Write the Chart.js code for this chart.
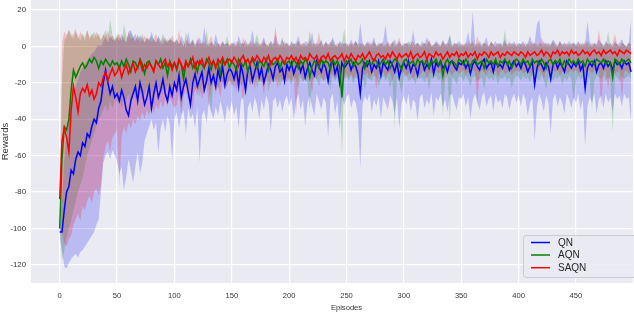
<!DOCTYPE html>
<html>
<head>
<meta charset="utf-8">
<script src="https://cdn.jsdelivr.net/npm/chart.js@4.4.1/dist/chart.umd.min.js"></script>
<style>
html, body { margin: 0; padding: 0; background: #fff; overflow: hidden; }
#wrap { width: 662px; height: 312px; }
</style>
</head>
<body>
<div id="wrap"><canvas id="chart" width="662" height="312"></canvas></div>
<script>
// Episodes are logged every 2 steps, 0..498
const EPISODE_STEP = 2;
const xTicks = [0, 50, 100, 150, 200, 250, 300, 350, 400, 450, 500];
const xTickLabels = ['0', '50', '100', '150', '200', '250', '300', '350', '400', '450', ''];
const yTicks = [-120, -100, -80, -60, -40, -20, 0, 20];
const seriesNames = ['QN', 'AQN', 'SAQN'];

// QN (blue)
const qnMean = [
  -102, -102, -90, -80, -77, -68, -70, -62, -58, -60, -53, -55, -48, -50, -44, -40, -42, -34, -30, -20, -13, -20, -26, -22, -28,
  -26, -30, -24, -28, -35, -38, -30, -26, -22, -30, -20, -25, -32, -28, -22, -34, -26, -20, -28, -24, -18, -26, -30, -22, -27,
  -20, -24, -16, -28, -22, -18, -25, -32, -20, -15, -22, -18, -14, -24, -19, -12, -20, -16, -22, -13, -18, -11, -21, -15, -12,
  -14, -18, -12, -22, -10, -16, -24, -13, -11, -19, -14, -9, -17, -12, -20, -15, -10, -13, -18, -11, -9, -14, -12, -19, -10,
  -13, -9, -15, -11, -8, -14, -10, -17, -12, -9, -13, -16, -8, -11, -14, -9, -12, -19, -10, -8, -15, -11, -20, -9, -12,
  -10, -8, -13, -9, -11, -15, -26, -12, -9, -11, -8, -14, -10, -12, -8, -16, -9, -11, -13, -8, -10, -14, -9, -17, -11,
  -9, -12, -8, -14, -10, -11, -16, -9, -8, -13, -10, -12, -7, -15, -9, -11, -8, -12, -10, -14, -9, -8, -11, -13, -9,
  -10, -8, -12, -9, -15, -10, -8, -11, -13, -9, -7, -12, -10, -9, -14, -8, -11, -10, -12, -8, -9, -13, -10, -8, -11,
  -9, -12, -8, -10, -14, -11, -9, -21, -12, -8, -10, -13, -9, -11, -18, -10, -8, -12, -9, -11, -14, -8, -10, -12, -9,
  -11, -8, -13, -10, -23, -12, -9, -11, -8, -14, -10, -9, -12, -8, -11, -9, -13, -8, -10, -9, -12, -8, -10, -9, -14
];
const qnHigh = [
  -100, -85, -62, -48, -38, -32, -26, -22, -18, -14, -12, -10, -8, -6, -4, -3, -1, 1, 0, 3, 5, 2, 6, 4, 3,
  5, 3, 7, 4, 2, 8, 9, 5, 7, 3, 6, 4, 2, 5, 3, 8, 4, 2, 6, 3, 1, 5, 2, 4, 3,
  2, 4, 1, 6, 3, 0, 8, 2, 4, 1, 3, 5, 1, 11, 2, 0, 3, 1, 7, 2, 0, 3, 1, 2, 0,
  1, 3, 0, 6, 2, 1, 4, 0, 2, 9, 1, 3, 0, 2, 5, 1, 0, 3, 1, 7, 2, 0, 4, 1, 2,
  0, 3, 1, 2, 6, 1, 0, 3, 2, 1, 8, 0, 2, 1, 4, 0, 3, 1, 2, 5, 1, 0, 3, 2, 1,
  2, 0, 4, 1, 3, 1, 13, 2, 0, 3, 1, 2, 5, 0, 2, 1, 3, 12, 1, 0, 2, 4, 1, 3, 0,
  2, 1, 3, 0, 9, 1, 2, 0, 3, 1, 5, 2, 0, 1, 3, 2, 0, 4, 1, 2, 6, 0, 2, 1, 3,
  1, 0, 2, 8, 1, 19, 2, 0, 3, 1, 2, 5, 0, 2, 1, 3, 0, 2, 1, 4, 0, 2, 1, 3, 0,
  2, 1, 3, 0, 2, 6, 1, 2, 12, 15, 1, 3, 0, 2, 1, 4, 2, 0, 3, 1, 2, 0, 3, 1, 2,
  1, 3, 0, 2, 1, 14, 3, 0, 2, 1, 4, 2, 0, 3, 1, 2, 0, 3, 1, 2, 4, 1, 0, 2, 15
];
const qnLow = [
  -104, -112, -121, -122, -119, -117, -115, -114, -116, -113, -112, -110, -108, -106, -104, -102, -98, -95, -80, -64, -60, -58, -62, -57, -60,
  -63, -70, -66, -79, -72, -62, -68, -75, -66, -58, -70, -64, -52, -48, -44, -40, -46, -42, -59, -45, -40, -47, -38, -43, -63,
  -40, -36, -45, -38, -35, -48, -34, -40, -37, -45, -33, -64, -38, -35, -42, -31, -36, -40, -33, -38, -30, -35, -42, -32, -36,
  -30, -38, -33, -45, -30, -28, -52, -34, -30, -36, -28, -32, -40, -29, -35, -27, -31, -47, -30, -28, -34, -29, -36, -30, -27,
  -33, -28, -40, -30, -26, -35, -29, -44, -31, -27, -33, -38, -26, -30, -35, -28, -31, -50, -29, -26, -37, -30, -46, -28, -32,
  -28, -26, -34, -29, -31, -38, -67, -32, -27, -30, -26, -36, -29, -33, -27, -40, -28, -31, -35, -27, -30, -37, -28, -45, -31,
  -27, -32, -26, -36, -29, -31, -41, -28, -26, -34, -29, -32, -25, -38, -28, -30, -26, -33, -29, -36, -27, -26, -31, -35, -28,
  -29, -26, -33, -28, -40, -30, -26, -31, -35, -28, -25, -33, -29, -27, -36, -26, -31, -29, -34, -26, -28, -35, -29, -26, -31,
  -27, -33, -26, -29, -38, -31, -28, -52, -33, -26, -30, -36, -27, -31, -48, -29, -26, -33, -28, -31, -37, -26, -29, -34, -28,
  -31, -26, -35, -29, -55, -33, -28, -31, -26, -37, -29, -27, -34, -26, -31, -28, -36, -26, -29, -27, -33, -26, -29, -28, -42
];

// AQN (green)
const aqnMean = [
  -100, -62, -44, -46, -40, -24, -13, -17, -14, -11, -9, -12, -10, -7, -9, -6, -8, -12, -8, -10, -7, -9, -11, -8, -10,
  -9, -12, -8, -11, -7, -10, -14, -8, -9, -12, -7, -10, -15, -9, -8, -11, -13, -8, -10, -7, -12, -9, -16, -8, -11,
  -9, -13, -8, -10, -18, -9, -11, -7, -12, -9, -14, -8, -10, -12, -7, -9, -13, -8, -11, -9, -15, -8, -10, -7, -12,
  -8, -10, -13, -7, -9, -11, -8, -14, -9, -7, -10, -12, -8, -9, -11, -7, -13, -8, -10, -9, -7, -12, -8, -10, -9,
  -8, -11, -7, -9, -12, -8, -10, -7, -9, -17, -11, -8, -9, -12, -7, -10, -8, -9, -13, -7, -10, -8, -11, -28, -10,
  -8, -9, -7, -11, -8, -10, -9, -7, -12, -8, -9, -10, -7, -8, -11, -9, -7, -10, -8, -12, -9, -7, -8, -10, -13,
  -8, -7, -10, -9, -8, -11, -7, -9, -8, -10, -7, -12, -8, -9, -7, -10, -8, -16, -9, -7, -10, -8, -9, -11, -7,
  -8, -10, -7, -9, -11, -8, -7, -10, -9, -8, -12, -7, -9, -8, -10, -7, -11, -8, -9, -7, -10, -8, -12, -9, -7,
  -8, -10, -7, -9, -8, -11, -7, -9, -8, -10, -7, -9, -12, -8, -7, -10, -8, -9, -7, -11, -8, -10, -7, -9, -8,
  -10, -7, -9, -8, -11, -7, -9, -8, -10, -7, -8, -9, -7, -10, -8, -9, -17, -7, -8, -10, -7, -9, -8, -7, -9
];
const aqnHigh = [
  -100, -20, 3, 5, 9, 7, 4, 8, 6, 3, 7, 5, 9, 4, 6, 8, 5, 7, 4, 6, 9, 3, 15, 6, 4,
  7, 5, 3, 12, 6, 4, 8, 5, 3, 6, 4, 7, 2, 5, 3, 6, 4, 2, 5, 3, 7, 4, 2, 5, 3,
  2, 4, 1, 3, 0, 8, 2, 1, 4, 0, 2, 1, 3, 0, 9, 1, 2, 0, 3, 1, 0, 2, 1, 6, 0,
  2, 1, 0, 3, 1, 2, 0, 1, 3, 0, 2, 7, 1, 0, 2, 1, 0, 3, 1, 2, 0, 1, 5, 0, 2,
  1, 0, 2, 1, 3, 0, 2, 1, 0, 9, 1, 2, 0, 1, 3, 0, 2, 1, 0, 4, 1, 0, 2, 1, 10,
  0, 2, 1, 0, 3, 1, 2, 0, 1, 2, 0, 1, 3, 0, 1, 2, 0, 1, 2, 0, 3, 1, 0, 2, 1,
  0, 2, 1, 3, 0, 1, 2, 0, 1, 2, 0, 3, 1, 0, 2, 1, 0, 2, 1, 0, 7, 1, 0, 2, 1,
  0, 1, 2, 0, 1, 3, 0, 2, 1, 0, 2, 1, 0, 3, 1, 0, 2, 1, 0, 9, 1, 0, 2, 1, 0,
  2, 1, 0, 2, 1, 0, 3, 1, 0, 2, 1, 0, 2, 1, 0, 3, 1, 0, 2, 1, 0, 2, 1, 0, 2,
  1, 0, 2, 1, 0, 3, 1, 0, 2, 1, 0, 2, 1, 0, 8, 1, 0, 2, 1, 0, 2, 1, 0, 2, 1
];
const aqnLow = [
  -100, -118, -112, -105, -100, -96, -90, -85, -80, -76, -72, -66, -60, -56, -52, -48, -44, -40, -38, -35, -32, -36, -30, -34, -29,
  -31, -28, -34, -27, -30, -26, -33, -25, -29, -27, -24, -30, -26, -23, -28, -25, -32, -24, -22, -27, -23, -26, -21, -28, -24,
  -22, -26, -21, -35, -23, -20, -25, -22, -19, -24, -21, -28, -20, -23, -19, -22, -37, -20, -18, -23, -20, -19, -24, -21, -18,
  -20, -23, -19, -18, -22, -19, -26, -18, -21, -19, -17, -23, -18, -20, -19, -17, -25, -18, -20, -19, -17, -22, -18, -19, -17,
  -19, -21, -17, -18, -23, -17, -19, -18, -20, -35, -19, -17, -18, -22, -17, -19, -18, -17, -24, -16, -19, -17, -21, -60, -18,
  -17, -19, -16, -21, -17, -18, -20, -16, -24, -17, -18, -19, -16, -17, -22, -18, -16, -19, -17, -23, -18, -45, -17, -20, -26,
  -17, -16, -19, -18, -17, -21, -16, -18, -17, -20, -16, -24, -17, -18, -16, -19, -17, -38, -18, -16, -42, -17, -18, -21, -16,
  -17, -19, -16, -18, -22, -17, -16, -19, -18, -17, -24, -16, -18, -17, -19, -16, -21, -17, -18, -16, -19, -17, -23, -18, -16,
  -17, -19, -16, -18, -17, -20, -16, -18, -17, -19, -16, -18, -24, -17, -16, -19, -17, -18, -16, -21, -17, -19, -16, -18, -30,
  -19, -16, -18, -17, -20, -16, -18, -35, -19, -16, -17, -18, -16, -19, -17, -18, -47, -16, -17, -19, -16, -18, -17, -16, -18
];

// SAQN (red)
const saqnMean = [
  -84, -52, -45, -50, -58, -35, -22, -28, -36, -26, -23, -25, -21, -27, -24, -29, -26, -20, -22, -17, -14, -19, -15, -12, -16,
  -14, -11, -17, -13, -10, -15, -12, -9, -14, -11, -8, -13, -10, -12, -9, -11, -14, -8, -10, -12, -9, -7, -11, -9, -13,
  -9, -12, -7, -10, -13, -8, -11, -9, -6, -12, -8, -10, -7, -11, -9, -6, -10, -8, -12, -7, -9, -6, -10, -8, -7,
  -9, -6, -8, -11, -7, -5, -9, -7, -10, -6, -8, -5, -7, -9, -6, -8, -5, -10, -7, -6, -8, -5, -7, -9, -6,
  -7, -5, -8, -6, -9, -5, -7, -6, -8, -4, -6, -7, -5, -9, -6, -5, -7, -4, -8, -6, -5, -7, -6, -4, -8,
  -5, -7, -4, -6, -8, -5, -6, -4, -7, -5, -3, -6, -8, -5, -4, -6, -5, -7, -4, -6, -3, -5, -7, -4, -6,
  -5, -4, -6, -3, -7, -5, -4, -6, -5, -3, -7, -4, -5, -6, -3, -5, -4, -7, -5, -3, -6, -4, -5, -3, -6,
  -4, -5, -3, -6, -4, -5, -3, -7, -4, -5, -3, -4, -6, -3, -5, -4, -3, -6, -4, -5, -3, -4, -5, -3, -4,
  -5, -3, -4, -6, -3, -5, -4, -3, -5, -4, -2, -5, -3, -4, -6, -3, -4, -2, -5, -3, -4, -3, -5, -2, -4,
  -3, -5, -4, -2, -4, -3, -5, -3, -2, -4, -3, -5, -2, -4, -3, -2, -4, -3, -5, -2, -3, -4, -2, -3, -4
];
const saqnHigh = [
  -84, 2, 8, 6, 9, 5, 7, 10, 4, 8, 6, 3, 9, 5, 7, 4, 8, 6, 3, 7, 5, 9, 4, 6, 3,
  5, 7, 3, 6, 2, 8, 4, 5, 3, 7, 2, 4, 6, 3, 5, 2, 4, 7, 3, 1, 5, 2, 4, 3, 6,
  3, 1, 9, 2, 0, 4, 2, 1, 3, 0, 5, 2, 1, 3, 0, 2, 6, 1, 0, 2, 1, 3, 0, 2, 1,
  2, 0, 3, 1, 0, 5, 1, 2, 0, 3, 1, 0, 2, 1, 4, 0, 2, 1, 0, 11, 2, 1, 0, 3, 1,
  0, 2, 1, 0, 3, 1, 2, 0, 1, 4, 0, 2, 1, 8, 0, 1, 2, 0, 3, 1, 0, 2, 1, 0, 2,
  1, 0, 2, 1, 3, 0, 1, 2, 0, 1, 3, 0, 2, 1, 0, 2, 1, 0, 3, 1, 2, 0, 1, 5, 0,
  1, 2, 0, 1, 3, 0, 2, 1, 0, 2, 1, 4, 0, 1, 2, 0, 1, 3, 0, 2, 1, 0, 2, 1, 0,
  2, 1, 0, 3, 1, 2, 0, 6, 1, 0, 2, 1, 0, 3, 1, 0, 2, 1, 0, 2, 1, 3, 0, 1, 2,
  0, 1, 2, 0, 1, 3, 0, 2, 1, 0, 5, 1, 2, 0, 1, 2, 0, 1, 3, 0, 2, 1, 0, 2, 1,
  0, 2, 1, 0, 3, 1, 0, 2, 1, 0, 9, 1, 0, 2, 1, 0, 2, 7, 1, 0, 2, 1, 0, 2, 1
];
const saqnLow = [
  -84, -102, -108, -110, -106, -104, -98, -95, -92, -96, -88, -90, -85, -82, -86, -80, -78, -82, -76, -62, -55, -52, -58, -50, -48,
  -46, -77, -50, -44, -48, -42, -45, -40, -43, -38, -41, -36, -40, -35, -38, -33, -37, -32, -35, -30, -34, -29, -33, -28, -31,
  -34, -32, -26, -38, -27, -24, -30, -25, -36, -23, -27, -22, -29, -24, -21, -33, -23, -20, -26, -22, -28, -20, -24, -21, -19,
  -22, -19, -25, -18, -21, -30, -19, -17, -22, -18, -24, -17, -20, -18, -27, -17, -19, -21, -16, -18, -23, -17, -19, -16, -20,
  -17, -19, -16, -38, -17, -15, -20, -16, -18, -15, -26, -16, -18, -15, -17, -19, -15, -22, -16, -15, -18, -16, -15, -20, -17,
  -15, -17, -15, -18, -16, -14, -20, -15, -16, -14, -18, -15, -14, -24, -15, -16, -14, -17, -15, -14, -19, -15, -14, -16, -15,
  -14, -16, -15, -14, -19, -15, -14, -16, -14, -13, -18, -15, -14, -16, -13, -15, -14, -21, -15, -13, -14, -16, -14, -13, -15,
  -14, -13, -16, -14, -15, -13, -14, -31, -15, -13, -14, -16, -13, -15, -14, -13, -17, -14, -13, -15, -14, -13, -16, -14, -13,
  -14, -13, -15, -14, -13, -16, -14, -13, -15, -13, -14, -18, -13, -14, -15, -13, -14, -13, -16, -14, -13, -15, -14, -13, -14,
  -13, -15, -14, -13, -16, -14, -13, -15, -13, -14, -13, -33, -14, -13, -24, -14, -13, -15, -14, -13, -29, -14, -13, -15, -14
];

const episodes = qnMean.map((_, i) => i * EPISODE_STEP);

function toPoints(values) {
  return values.map((v, i) => ({ x: episodes[i], y: v }));
}

const FONT = "'Liberation Sans', Arial, sans-serif";
const TEXT = '#333333';

// seaborn-like grey plot area
const plotBackground = {
  id: 'plotBackground',
  beforeDraw(chart) {
    const { ctx, chartArea: a } = chart;
    ctx.save();
    ctx.fillStyle = '#EAEAF2';
    ctx.fillRect(a.left, a.top, a.right - a.left, a.bottom - a.top);
    ctx.restore();
  }
};

// legend box in lower right corner, matplotlib style
const cornerLegend = {
  id: 'cornerLegend',
  afterDatasetsDraw(chart) {
    const c = chart.ctx;
    const x = 523.5, y = 235.5, w = 150, h = 42, r = 3;
    c.save();
    c.beginPath();
    c.moveTo(x + r, y);
    c.lineTo(x + w - r, y);
    c.arcTo(x + w, y, x + w, y + r, r);
    c.lineTo(x + w, y + h - r);
    c.arcTo(x + w, y + h, x + w - r, y + h, r);
    c.lineTo(x + r, y + h);
    c.arcTo(x, y + h, x, y + h - r, r);
    c.lineTo(x, y + r);
    c.arcTo(x, y, x + r, y, r);
    c.closePath();
    c.fillStyle = 'rgba(234,234,242,0.85)';
    c.fill();
    c.strokeStyle = '#cccccc';
    c.lineWidth = 1;
    c.stroke();

    const colors = ['#0000ff', '#008000', '#ff0000'];
    const rows = [242.5, 255, 267.7];
    c.font = '10px ' + FONT;
    c.textBaseline = 'middle';
    c.fillStyle = '#262626';
    seriesNames.forEach((name, i) => {
      c.beginPath();
      c.moveTo(531, rows[i]);
      c.lineTo(550, rows[i]);
      c.strokeStyle = colors[i];
      c.lineWidth = 1.5;
      c.stroke();
      c.fillText(name, 558, rows[i] + 0.5);
    });
    c.restore();
  }
};

function band(values, color, order, fillTo) {
  return {
    data: toPoints(values),
    borderWidth: 0,
    borderColor: 'transparent',
    backgroundColor: color,
    pointRadius: 0,
    fill: fillTo === undefined ? false : fillTo,
    order: order
  };
}

function line(values, color, order) {
  return {
    data: toPoints(values),
    borderColor: color,
    borderWidth: 1.5,
    pointRadius: 0,
    fill: false,
    tension: 0,
    order: order
  };
}

new Chart(document.getElementById('chart'), {
  type: 'line',
  data: {
    datasets: [
      line(saqnMean, '#ff0000', 0),
      line(aqnMean, '#008000', 1),
      line(qnMean, '#0000ff', 2),
      band(saqnLow, 'rgba(255,0,0,0.2)', 4),
      band(saqnHigh, 'rgba(255,0,0,0.2)', 4, 3),
      band(aqnLow, 'rgba(0,128,0,0.2)', 5),
      band(aqnHigh, 'rgba(0,128,0,0.2)', 5, 5),
      band(qnLow, 'rgba(0,0,255,0.2)', 6),
      band(qnHigh, 'rgba(0,0,255,0.2)', 6, 7)
    ]
  },
  options: {
    responsive: false,
    animation: false,
    normalized: true,
    layout: { padding: 0 },
    plugins: {
      legend: { display: false },
      tooltip: { enabled: false }
    },
    scales: {
      x: {
        type: 'linear',
        min: -25,
        max: 525,
        afterBuildTicks: (scale) => { scale.ticks = xTicks.map(v => ({ value: v })); },
        afterFit: (scale) => { scale.height = 29; scale.paddingLeft = 0; scale.paddingRight = 0; },
        grid: { color: '#ffffff', lineWidth: 1.2, drawTicks: false },
        border: { display: false },
        ticks: {
          color: TEXT, font: { family: FONT, size: 7.6 }, padding: 8, maxRotation: 0, autoSkip: false,
          callback: (value) => xTickLabels[xTicks.indexOf(value)]
        },
        title: { display: true, text: 'Episodes', color: TEXT, font: { family: FONT, size: 7.6 }, padding: { top: 0, bottom: 0 } }
      },
      y: {
        type: 'linear',
        min: -130,
        max: 25.5,
        afterBuildTicks: (scale) => { scale.ticks = yTicks.map(v => ({ value: v })); },
        afterFit: (scale) => { scale.width = 31; scale.paddingTop = 0; scale.paddingBottom = 0; },
        grid: { color: '#ffffff', lineWidth: 1.2, drawTicks: false },
        border: { display: false },
        ticks: { color: TEXT, font: { family: FONT, size: 7.8 }, padding: 5 },
        title: { display: true, text: 'Rewards', color: TEXT, font: { family: FONT, size: 9.5 }, padding: { top: 0, bottom: 0 } }
      }
    }
  },
  plugins: [plotBackground, cornerLegend]
});
</script>
</body>
</html>
